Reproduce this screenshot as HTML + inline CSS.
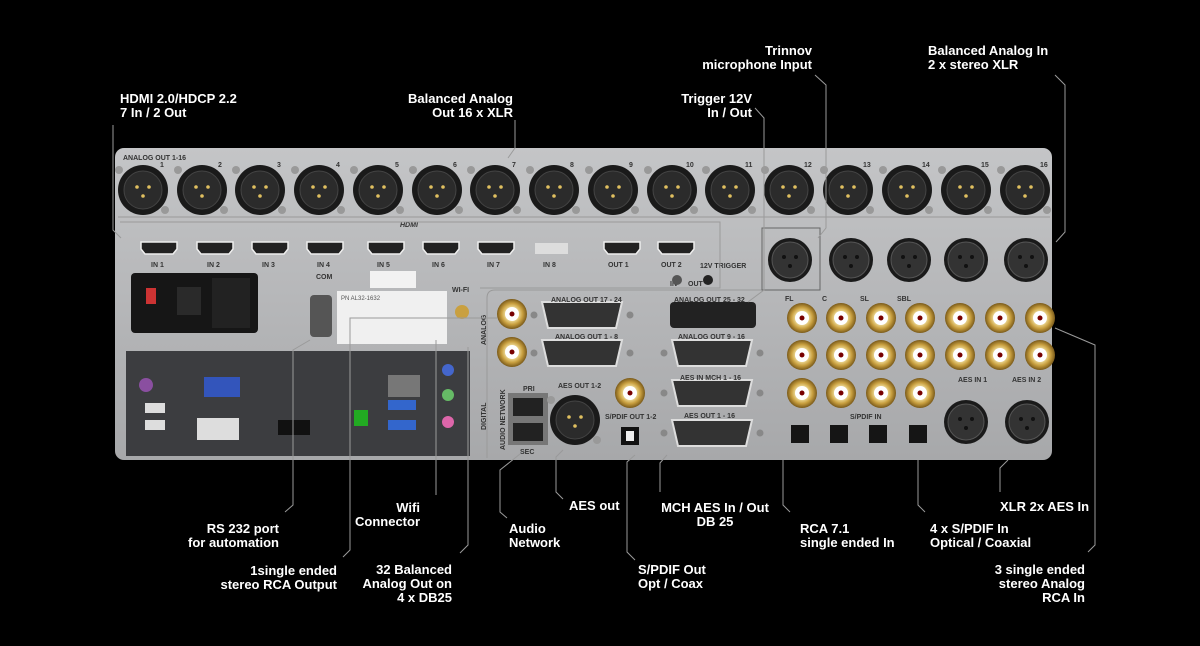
<!DOCTYPE html>
<html><head><meta charset="utf-8"><style>
html,body{margin:0;padding:0;background:#000;width:1200px;height:646px;overflow:hidden}
svg{display:block}
.t{font-family:"Liberation Sans",sans-serif;font-weight:bold;font-size:13px;fill:#fff}
.s{font-family:"Liberation Sans",sans-serif;font-weight:bold;font-size:7px;fill:#333}
.l{fill:none;stroke:#9a9a9a;stroke-width:1}
</style></head><body>
<svg width="1200" height="646" viewBox="0 0 1200 646">
<defs>
<linearGradient id="pg" x1="0" y1="0" x2="0" y2="1"><stop offset="0" stop-color="#c4c5c7"/><stop offset="1" stop-color="#a7a8aa"/></linearGradient>
<radialGradient id="gold"><stop offset="0.3" stop-color="#fff6c0"/><stop offset="0.7" stop-color="#c9a040"/><stop offset="1" stop-color="#7a5a1a"/></radialGradient>
<g id="xlr"><circle r="25" fill="#1a1a1a"/><circle r="19" fill="#2b2b2b" stroke="#444"/><circle cx="-6" cy="-3" r="1.8" fill="#e0c060"/><circle cx="6" cy="-3" r="1.8" fill="#e0c060"/><circle cx="0" cy="6" r="1.8" fill="#e0c060"/><circle cx="-24" cy="-20" r="4" fill="#999"/><circle cx="22" cy="20" r="4" fill="#999"/></g>
<g id="xlrf"><circle r="22" fill="#1a1a1a"/><circle r="18" fill="#333" stroke="#555"/><circle cx="-6" cy="-3" r="2" fill="#111"/><circle cx="6" cy="-3" r="2" fill="#111"/><circle cx="0" cy="6" r="2" fill="#111"/></g>
<g id="rca"><circle r="15" fill="url(#gold)"/><circle r="7" fill="#fff"/><circle r="2.5" fill="#700"/></g>
<g id="hdmi"><path d="M-18,-6 h36 v7 l-4,5 h-28 l-4,-5z" fill="#222" stroke="#eee" stroke-width="1.5"/></g>
<g id="db"><path d="M-40,-13 h80 l-6,26 h-68z" fill="#333" stroke="#ddd" stroke-width="2"/><circle cx="-48" r="3.5" fill="#888"/><circle cx="48" r="3.5" fill="#888"/></g>
<g id="opt"><rect x="-9" y="-9" width="18" height="18" fill="#151515"/></g>
</defs>
<rect x="115" y="148" width="937" height="312" rx="9" fill="url(#pg)"/>
<text x="123" y="160" class="s">ANALOG OUT 1-16</text>
<path d="M118,217 H1050" class="l" stroke="#888"/>
<text x="400" y="227" class="s" font-style="italic">HDMI</text>
<g>
<use href="#xlr" x="143" y="190"/><use href="#xlr" x="202" y="190"/><use href="#xlr" x="260" y="190"/><use href="#xlr" x="319" y="190"/>
<use href="#xlr" x="378" y="190"/><use href="#xlr" x="437" y="190"/><use href="#xlr" x="495" y="190"/><use href="#xlr" x="554" y="190"/>
<use href="#xlr" x="613" y="190"/><use href="#xlr" x="672" y="190"/><use href="#xlr" x="730" y="190"/><use href="#xlr" x="789" y="190"/>
<use href="#xlr" x="848" y="190"/><use href="#xlr" x="907" y="190"/><use href="#xlr" x="966" y="190"/><use href="#xlr" x="1025" y="190"/>
</g>
<g class="s">
<text x="160" y="167">1</text><text x="218" y="167">2</text><text x="277" y="167">3</text><text x="336" y="167">4</text><text x="395" y="167">5</text><text x="453" y="167">6</text><text x="512" y="167">7</text><text x="570" y="167">8</text><text x="629" y="167">9</text><text x="686" y="167">10</text><text x="745" y="167">11</text><text x="804" y="167">12</text><text x="863" y="167">13</text><text x="922" y="167">14</text><text x="981" y="167">15</text><text x="1040" y="167">16</text>
</g>
<use href="#hdmi" x="159" y="248"/><use href="#hdmi" x="215" y="248"/><use href="#hdmi" x="270" y="248"/><use href="#hdmi" x="325" y="248"/><use href="#hdmi" x="386" y="248"/><use href="#hdmi" x="441" y="248"/><use href="#hdmi" x="496" y="248"/>
<rect x="535" y="243" width="33" height="11" fill="#ddd"/><use href="#hdmi" x="622" y="248"/><use href="#hdmi" x="676" y="248"/>
<g class="s"><text x="151" y="267">IN 1</text><text x="207" y="267">IN 2</text><text x="262" y="267">IN 3</text><text x="317" y="267">IN 4</text><text x="377" y="267">IN 5</text><text x="432" y="267">IN 6</text><text x="487" y="267">IN 7</text><text x="543" y="267">IN 8</text><text x="608" y="267">OUT 1</text><text x="661" y="267">OUT 2</text><text x="700" y="268">12V TRIGGER</text><text x="670" y="286">IN</text><text x="688" y="286">OUT</text><text x="316" y="279">COM</text><text x="452" y="292">WI-FI</text></g>
<path d="M120,222 H720 V288 H480" class="l" stroke="#888" fill="none"/>
<circle cx="677" cy="280" r="5" fill="#555"/><circle cx="708" cy="280" r="5" fill="#222"/>
<rect x="131" y="273" width="127" height="60" rx="4" fill="#161616"/><rect x="177" y="287" width="24" height="28" fill="#2a2a2a"/><rect x="212" y="278" width="38" height="50" fill="#222"/><rect x="146" y="288" width="10" height="16" fill="#c33"/>
<rect x="310" y="295" width="22" height="42" rx="4" fill="#555"/>
<rect x="370" y="271" width="46" height="17" fill="#f2f2f2"/>
<rect x="337" y="291" width="110" height="53" fill="#f0f0f0"/><text x="341" y="300" font-family="Liberation Sans" font-size="6" fill="#555">PN AL32-1632</text>
<circle cx="462" cy="312" r="7" fill="#c9a040"/>
<rect x="126" y="351" width="344" height="105" fill="#3c3d40"/>
<rect x="204" y="377" width="36" height="20" fill="#3355bb"/><rect x="197" y="418" width="42" height="22" fill="#ddd"/><circle cx="146" cy="385" r="7" fill="#8a4fa0"/>
<rect x="145" y="403" width="20" height="10" fill="#ddd"/><rect x="145" y="420" width="20" height="10" fill="#ddd"/>
<rect x="278" y="420" width="32" height="15" fill="#111"/><rect x="354" y="410" width="14" height="16" fill="#2a2"/>
<rect x="388" y="375" width="32" height="22" fill="#777"/><rect x="388" y="400" width="28" height="10" fill="#3366cc"/><rect x="388" y="420" width="28" height="10" fill="#3366cc"/>
<circle cx="448" cy="370" r="6" fill="#4466cc"/><circle cx="448" cy="395" r="6" fill="#66bb66"/><circle cx="448" cy="422" r="6" fill="#dd66aa"/>
<path d="M487,458 V298 Q487,290 495,290 H765" class="l" stroke="#888"/>
<text transform="translate(486,345) rotate(-90)" class="s">ANALOG</text><text transform="translate(486,430) rotate(-90)" class="s">DIGITAL</text><text transform="translate(505,450) rotate(-90)" class="s">AUDIO NETWORK</text>
<use href="#rca" x="512" y="314"/><use href="#rca" x="512" y="352"/>
<use href="#db" x="582" y="315"/><use href="#db" x="582" y="353"/><rect x="670" y="302" width="86" height="26" rx="4" fill="#222"/><use href="#db" x="712" y="353"/><use href="#db" x="712" y="393"/><use href="#db" x="712" y="433"/>
<g class="s"><text x="551" y="302">ANALOG OUT 17 - 24</text><text x="674" y="302">ANALOG OUT 25 - 32</text><text x="555" y="339">ANALOG OUT 1 - 8</text><text x="678" y="339">ANALOG OUT 9 - 16</text><text x="680" y="380">AES IN MCH 1 - 16</text><text x="684" y="418">AES OUT 1 - 16</text><text x="558" y="388">AES OUT 1-2</text><text x="523" y="391">PRI</text><text x="520" y="454">SEC</text><text x="605" y="419">S/PDIF OUT 1-2</text><text x="785" y="301">FL</text><text x="822" y="301">C</text><text x="860" y="301">SL</text><text x="897" y="301">SBL</text><text x="958" y="382">AES IN 1</text><text x="1012" y="382">AES IN 2</text><text x="850" y="419">S/PDIF IN</text></g>
<rect x="508" y="393" width="40" height="52" fill="#777"/><rect x="513" y="398" width="30" height="18" fill="#222"/><rect x="513" y="423" width="30" height="18" fill="#222"/>
<use href="#xlr" x="575" y="420"/><use href="#rca" x="630" y="393"/><rect x="621" y="427" width="18" height="18" fill="#111"/><rect x="626" y="431" width="8" height="10" fill="#eee"/>
<rect x="762" y="228" width="58" height="62" fill="none" stroke="#666"/><use href="#xlrf" x="790" y="260"/><use href="#xlrf" x="851" y="260"/><use href="#xlrf" x="909" y="260"/><use href="#xlrf" x="966" y="260"/><use href="#xlrf" x="1026" y="260"/>
<g>
<use href="#rca" x="802" y="318"/><use href="#rca" x="841" y="318"/><use href="#rca" x="881" y="318"/><use href="#rca" x="920" y="318"/><use href="#rca" x="960" y="318"/><use href="#rca" x="1000" y="318"/><use href="#rca" x="1040" y="318"/>
<use href="#rca" x="802" y="355"/><use href="#rca" x="841" y="355"/><use href="#rca" x="881" y="355"/><use href="#rca" x="920" y="355"/><use href="#rca" x="960" y="355"/><use href="#rca" x="1000" y="355"/><use href="#rca" x="1040" y="355"/>
<use href="#rca" x="802" y="393"/><use href="#rca" x="841" y="393"/><use href="#rca" x="881" y="393"/><use href="#rca" x="920" y="393"/>
</g>
<use href="#opt" x="800" y="434"/><use href="#opt" x="839" y="434"/><use href="#opt" x="878" y="434"/><use href="#opt" x="918" y="434"/>
<use href="#xlrf" x="966" y="422"/><use href="#xlrf" x="1027" y="422"/>
<g class="l">
<path d="M113,125 V230 L121,238"/>
<path d="M515,120 V148 L508,158"/>
<path d="M755,108 L764,118 V290 L748,302"/>
<path d="M815,75 L826,85 V228 L818,238"/>
<path d="M1055,75 L1065,85 V232 L1056,242"/>
<path d="M310,340 L293,350 V505 L285,512"/>
<path d="M436,340 V495"/>
<path d="M497,318 H350 V550 L343,557"/>
<path d="M468,347 V545 L460,553"/>
<path d="M520,454 L500,470 V512 L507,518"/>
<path d="M563,450 L556,457 V492 L563,499"/>
<path d="M635,455 L627,462 V552 L635,560"/>
<path d="M667,455 L660,463 V492"/>
<path d="M783,460 V505 L790,512"/>
<path d="M918,460 V505 L925,512"/>
<path d="M1008,460 L1000,468 V492"/>
<path d="M1055,328 L1095,345 V545 L1088,552"/>
</g>
<g class="t">
<text x="120" y="103">HDMI 2.0/HDCP 2.2</text><text x="120" y="117">7 In / 2 Out</text>
<text x="513" y="103" text-anchor="end">Balanced Analog</text><text x="513" y="117" text-anchor="end">Out 16 x XLR</text>
<text x="752" y="103" text-anchor="end">Trigger 12V</text><text x="752" y="117" text-anchor="end">In / Out</text>
<text x="812" y="55" text-anchor="end">Trinnov</text><text x="812" y="69" text-anchor="end">microphone Input</text>
<text x="928" y="55">Balanced Analog In</text><text x="928" y="69">2 x stereo XLR</text>
<text x="279" y="533" text-anchor="end">RS 232 port</text><text x="279" y="547" text-anchor="end">for automation</text>
<text x="420" y="512" text-anchor="end">Wifi</text><text x="420" y="526" text-anchor="end">Connector</text>
<text x="337" y="575" text-anchor="end">1single ended</text><text x="337" y="589" text-anchor="end">stereo RCA Output</text>
<text x="452" y="574" text-anchor="end">32 Balanced</text><text x="452" y="588" text-anchor="end">Analog Out on</text><text x="452" y="602" text-anchor="end">4 x DB25</text>
<text x="509" y="533">Audio</text><text x="509" y="547">Network</text>
<text x="569" y="510">AES out</text>
<text x="638" y="574">S/PDIF Out</text><text x="638" y="588">Opt / Coax</text>
<text x="715" y="512" text-anchor="middle">MCH AES In / Out</text><text x="715" y="526" text-anchor="middle">DB 25</text>
<text x="800" y="533">RCA 7.1</text><text x="800" y="547">single ended In</text>
<text x="930" y="533">4 x S/PDIF In</text><text x="930" y="547">Optical / Coaxial</text>
<text x="1000" y="511">XLR 2x AES In</text>
<text x="1085" y="574" text-anchor="end">3 single ended</text><text x="1085" y="588" text-anchor="end">stereo Analog</text><text x="1085" y="602" text-anchor="end">RCA In</text>
</g>
</svg>
</body></html>
